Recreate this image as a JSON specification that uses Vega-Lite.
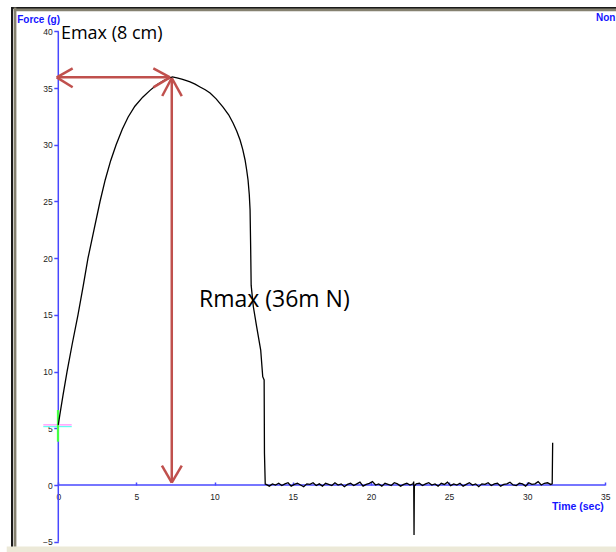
{
  "$schema": "https://vega.github.io/schema/vega-lite/v6.json",
  "width": 606,
  "height": 545,
  "autosize": {"type": "none"},
  "padding": {"left": 12, "top": 8, "right": 0, "bottom": 0},
  "background": "white",
  "view": {"stroke": "#1a1a1a", "strokeWidth": 2},
  "datasets": {
    "curve": [
      {"time": 0.0, "force": 5.3}, {"time": 0.1, "force": 6.2}, {"time": 0.3, "force": 7.9}, {"time": 0.56, "force": 10.0},
      {"time": 0.9, "force": 12.5}, {"time": 1.26, "force": 15.0}, {"time": 1.6, "force": 17.6}, {"time": 1.9, "force": 20.0},
      {"time": 2.3, "force": 22.6}, {"time": 2.67, "force": 25.0}, {"time": 3.0, "force": 26.9}, {"time": 3.35, "force": 28.6},
      {"time": 3.7, "force": 30.0}, {"time": 4.1, "force": 31.4}, {"time": 4.47, "force": 32.45}, {"time": 4.9, "force": 33.4},
      {"time": 5.4, "force": 34.2}, {"time": 5.87, "force": 34.8}, {"time": 6.3, "force": 35.3}, {"time": 6.8, "force": 35.7},
      {"time": 7.3, "force": 35.98}, {"time": 7.59, "force": 35.9}, {"time": 7.9, "force": 35.8},
      {"time": 8.2, "force": 35.65}, {"time": 8.43, "force": 35.54}, {"time": 8.75, "force": 35.35}, {"time": 9.07, "force": 35.1},
      {"time": 9.4, "force": 34.85}, {"time": 9.71, "force": 34.57}, {"time": 10.1, "force": 34.05}, {"time": 10.54, "force": 33.33},
      {"time": 10.9, "force": 32.65}, {"time": 11.18, "force": 31.92}, {"time": 11.42, "force": 31.2}, {"time": 11.63, "force": 30.42},
      {"time": 11.8, "force": 29.6}, {"time": 11.95, "force": 28.66}, {"time": 12.05, "force": 27.8}, {"time": 12.14, "force": 26.9},
      {"time": 12.22, "force": 25.6}, {"time": 12.27, "force": 24.25}, {"time": 12.31, "force": 20.7}, {"time": 12.34, "force": 17.6},
      {"time": 12.48, "force": 15.72}, {"time": 12.69, "force": 13.96}, {"time": 12.95, "force": 11.9}, {"time": 13.08, "force": 9.55},
      {"time": 13.17, "force": 9.26}, {"time": 13.19, "force": 2.82}, {"time": 13.24, "force": 0.09},
      {"time": 13.3, "force": 0.05}, {"time": 13.5, "force": -0.1}, {"time": 13.7, "force": 0.1}, {"time": 13.9, "force": 0.0},
      {"time": 14.1, "force": 0.15}, {"time": 14.3, "force": -0.05}, {"time": 14.5, "force": 0.1}, {"time": 14.7, "force": 0.2},
      {"time": 14.9, "force": -0.1}, {"time": 15.1, "force": 0.05}, {"time": 15.3, "force": 0.15}, {"time": 15.5, "force": 0.0},
      {"time": 15.7, "force": -0.15}, {"time": 15.9, "force": 0.1}, {"time": 16.1, "force": 0.05}, {"time": 16.3, "force": 0.2},
      {"time": 16.5, "force": -0.05}, {"time": 16.7, "force": 0.1}, {"time": 16.9, "force": -0.1}, {"time": 17.1, "force": 0.15},
      {"time": 17.3, "force": 0.05}, {"time": 17.5, "force": -0.05}, {"time": 17.7, "force": 0.2}, {"time": 17.9, "force": 0.0},
      {"time": 18.1, "force": 0.1}, {"time": 18.3, "force": -0.15}, {"time": 18.5, "force": 0.05}, {"time": 18.7, "force": 0.15},
      {"time": 18.9, "force": -0.05}, {"time": 19.1, "force": 0.1}, {"time": 19.3, "force": 0.25}, {"time": 19.5, "force": -0.1},
      {"time": 19.7, "force": 0.05}, {"time": 19.9, "force": 0.15}, {"time": 20.1, "force": 0.3}, {"time": 20.3, "force": 0.0},
      {"time": 20.5, "force": 0.1}, {"time": 20.7, "force": -0.1}, {"time": 20.9, "force": 0.15}, {"time": 21.1, "force": 0.05},
      {"time": 21.3, "force": -0.05}, {"time": 21.5, "force": 0.2}, {"time": 21.7, "force": 0.1}, {"time": 21.9, "force": -0.1},
      {"time": 22.1, "force": 0.05}, {"time": 22.3, "force": 0.15}, {"time": 22.5, "force": 0.0}, {"time": 22.7, "force": 0.1},
      {"time": 22.74, "force": 0.3}, {"time": 22.76, "force": -4.4}, {"time": 22.78, "force": -0.1}, {"time": 22.9, "force": 0.1},
      {"time": 23.1, "force": 0.15}, {"time": 23.3, "force": -0.05}, {"time": 23.5, "force": 0.1}, {"time": 23.7, "force": 0.2},
      {"time": 23.9, "force": 0.0}, {"time": 24.1, "force": 0.1}, {"time": 24.3, "force": -0.1}, {"time": 24.5, "force": 0.15},
      {"time": 24.7, "force": 0.05}, {"time": 24.9, "force": 0.25}, {"time": 25.1, "force": -0.05}, {"time": 25.3, "force": 0.1},
      {"time": 25.5, "force": 0.0}, {"time": 25.7, "force": 0.15}, {"time": 25.9, "force": -0.1}, {"time": 26.1, "force": 0.05},
      {"time": 26.3, "force": 0.2}, {"time": 26.5, "force": 0.0}, {"time": 26.7, "force": 0.1}, {"time": 26.9, "force": -0.15},
      {"time": 27.1, "force": 0.1}, {"time": 27.3, "force": 0.05}, {"time": 27.5, "force": 0.2}, {"time": 27.7, "force": -0.05},
      {"time": 27.9, "force": 0.1}, {"time": 28.1, "force": 0.15}, {"time": 28.3, "force": -0.1}, {"time": 28.5, "force": 0.05},
      {"time": 28.7, "force": 0.1}, {"time": 28.9, "force": 0.25}, {"time": 29.1, "force": 0.0}, {"time": 29.3, "force": -0.05},
      {"time": 29.5, "force": 0.15}, {"time": 29.7, "force": 0.1}, {"time": 29.9, "force": -0.1}, {"time": 30.1, "force": 0.2},
      {"time": 30.3, "force": 0.05}, {"time": 30.5, "force": 0.1}, {"time": 30.7, "force": 0.3}, {"time": 30.9, "force": 0.0},
      {"time": 31.1, "force": 0.15}, {"time": 31.3, "force": 0.2}, {"time": 31.5, "force": 0.05}, {"time": 31.6, "force": 0.1},
      {"time": 31.63, "force": 3.73}
    ],
    "arrows": [
      {"time": -0.1, "force": 35.95, "time2": 7.15, "force2": 35.95},
      {"time": -0.1, "force": 35.95, "time2": 0.92, "force2": 36.74},
      {"time": -0.1, "force": 35.95, "time2": 0.92, "force2": 35.07},
      {"time": 7.15, "force": 35.95, "time2": 6.08, "force2": 36.74},
      {"time": 7.15, "force": 35.95, "time2": 6.08, "force2": 35.07},
      {"time": 7.26, "force": 35.89, "time2": 7.26, "force2": 0.2},
      {"time": 7.26, "force": 35.89, "time2": 6.65, "force2": 34.3},
      {"time": 7.26, "force": 35.89, "time2": 7.9, "force2": 34.3},
      {"time": 7.26, "force": 0.2, "time2": 6.63, "force2": 1.7},
      {"time": 7.26, "force": 0.2, "time2": 7.9, "force2": 1.7}
    ]
  },
  "encoding": {
    "x": {
      "field": "time", "type": "quantitative",
      "scale": {"domain": [-2.962, 35.81], "nice": false, "zero": false},
      "axis": {
        "values": [0, 5, 10, 15, 20, 25, 30, 35],
        "offset": -68, "domain": false, "grid": false,
        "tickSize": -3, "tickColor": "#4848ff", "tickWidth": 1.5,
        "labelFont": "Liberation Sans", "labelFontSize": 8.5, "labelColor": "#222222",
        "labelPadding": 10, "labelDx": -3, "labelFlush": false, "labelOverlap": false, "labelBound": false,
        "title": "Time (sec)", "titleX": 591.3, "titleY": 24, "titleAlign": "right", "titleBaseline": "alphabetic",
        "titleFont": "Liberation Sans", "titleFontSize": 10.5, "titleFontWeight": "bold", "titleColor": "#1414ff"
      }
    },
    "y": {
      "field": "force", "type": "quantitative",
      "scale": {"domain": [-5.996, 42.063], "nice": false, "zero": false},
      "axis": {
        "values": [-5, 0, 5, 10, 15, 20, 25, 30, 35, 40],
        "offset": -46.3, "domain": false, "grid": false,
        "tickSize": 4.5, "tickColor": "#4848ff", "tickWidth": 1.5,
        "labelFont": "Liberation Sans", "labelFontSize": 8.5, "labelColor": "#222222",
        "labelPadding": 1.5, "labelFlush": false, "labelOverlap": false, "labelBound": false,
        "title": "Force (g)", "titleAngle": 0, "titleX": -41.6, "titleY": 14, "titleAlign": "left", "titleBaseline": "alphabetic",
        "titleFont": "Liberation Sans", "titleFontSize": 10, "titleFontWeight": "bold", "titleColor": "#1414ff"
      }
    }
  },
  "layer": [
    {
      "data": {"values": [{"time": -3.3, "time2": 36.5, "force": -5.42, "force2": -6.3}]},
      "mark": {"type": "rect", "color": "#ece9d8", "clip": false},
      "encoding": {"x2": {"field": "time2"}, "y2": {"field": "force2"}}
    },
    {
      "data": {"values": [
        {"time": -2.77, "time2": -2.77, "force": 42.1, "force2": -5.42},
        {"time": -2.85, "time2": 36.5, "force": 41.89, "force2": 41.89}
      ]},
      "mark": {"type": "rule", "color": "#858170", "strokeWidth": 2.8},
      "encoding": {"x2": {"field": "time2"}, "y2": {"field": "force2"}}
    },
    {
      "data": {"values": [
        {"time": 0, "time2": 0, "force": -5, "force2": 40},
        {"time": 0, "time2": 35, "force": 0, "force2": 0}
      ]},
      "mark": {"type": "rule", "color": "#4848ff", "strokeWidth": 1.5},
      "encoding": {"x2": {"field": "time2"}, "y2": {"field": "force2"}}
    },
    {
      "data": {"values": [{"time": -0.96, "time2": 0.86, "force": 5.15, "force2": 5.15}]},
      "mark": {"type": "rule", "color": "#66ffee", "strokeWidth": 1.2},
      "encoding": {"x2": {"field": "time2"}, "y2": {"field": "force2"}}
    },
    {
      "data": {"values": [{"time": -0.96, "time2": 0.86, "force": 5.3, "force2": 5.3}]},
      "mark": {"type": "rule", "color": "#ff77ff", "strokeWidth": 1},
      "encoding": {"x2": {"field": "time2"}, "y2": {"field": "force2"}}
    },
    {
      "data": {"values": [{"time": -0.02, "time2": -0.02, "force": 6.61, "force2": 3.82}]},
      "mark": {"type": "rule", "color": "#44ff44", "strokeWidth": 2.2},
      "encoding": {"x2": {"field": "time2"}, "y2": {"field": "force2"}}
    },
    {
      "data": {"name": "curve"},
      "mark": {"type": "line", "color": "#000000", "strokeWidth": 1.3}
    },
    {
      "data": {"name": "arrows"},
      "mark": {"type": "rule", "color": "#c0504d", "strokeWidth": 2.5, "strokeCap": "butt"},
      "encoding": {"x2": {"field": "time2"}, "y2": {"field": "force2"}}
    },
    {
      "data": {"values": [{"time": 0.17, "force": 39.3, "label": "Emax (8 cm)"}]},
      "mark": {"type": "text", "font": "Open Sans", "fontSize": 18, "align": "left", "baseline": "alphabetic", "color": "#000000"},
      "encoding": {"text": {"field": "label"}}
    },
    {
      "data": {"values": [{"time": 9.0, "force": 15.72, "label": "Rmax (36m N)"}]},
      "mark": {"type": "text", "font": "Open Sans", "fontSize": 23, "align": "left", "baseline": "alphabetic", "color": "#000000"},
      "encoding": {"text": {"field": "label"}}
    },
    {
      "data": {"values": [{"time": 34.4, "force": 40.94, "label": "Non"}]},
      "mark": {"type": "text", "font": "Liberation Sans", "fontSize": 10, "fontWeight": "bold", "align": "left", "baseline": "alphabetic", "color": "#1414ff"},
      "encoding": {"text": {"field": "label"}}
    }
  ]
}
